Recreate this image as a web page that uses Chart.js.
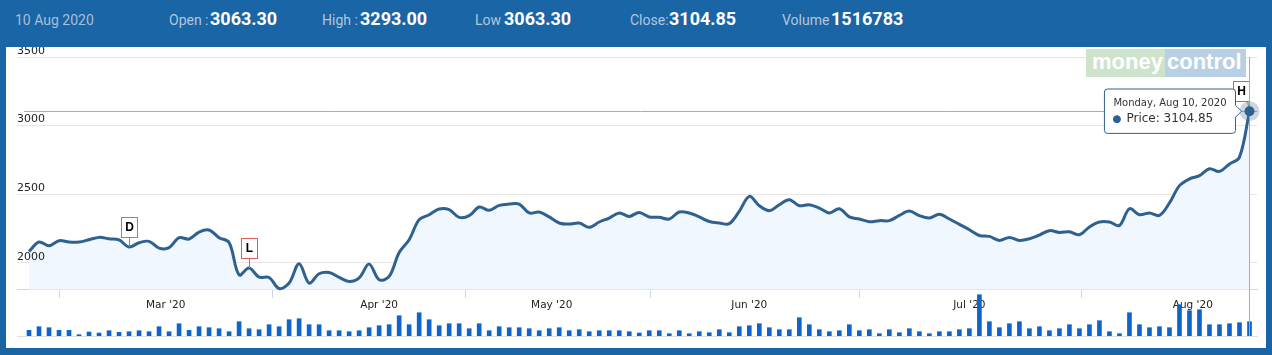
<!DOCTYPE html>
<html><head><meta charset="utf-8">
<script src="https://cdn.jsdelivr.net/npm/chart.js@4.4.0/dist/chart.umd.min.js"></script>
<style>
html,body{margin:0;padding:0;background:#1965a5;width:1272px;height:355px;overflow:hidden;}
#panel{position:absolute;left:6px;top:47px;width:1260px;height:301px;background:#fff;}
#hdr{position:absolute;left:0;top:0;}
#c{position:absolute;left:0;top:47px;}
#logo{position:absolute;left:1086px;top:49px;}
</style></head><body>
<div id="panel"></div>
<svg id="hdr" width="1272" height="47" font-family="Roboto, 'Liberation Sans', sans-serif">
  <text x="15" y="25" font-size="14" fill="#a9bfd8">10 Aug 2020</text>
  <text x="169" y="25" font-size="14" fill="#b3c6dc">Open :</text>
  <text x="210" y="25" font-size="18" font-weight="bold" fill="#ffffff">3063.30</text>
  <text x="322" y="25" font-size="14" fill="#b3c6dc">High :</text>
  <text x="360" y="25" font-size="18" font-weight="bold" fill="#ffffff">3293.00</text>
  <text x="475" y="25" font-size="14" fill="#b3c6dc">Low</text>
  <text x="504" y="25" font-size="18" font-weight="bold" fill="#ffffff">3063.30</text>
  <text x="630" y="25" font-size="14" fill="#b3c6dc">Close:</text>
  <text x="669" y="25" font-size="18" font-weight="bold" fill="#ffffff">3104.85</text>
  <text x="782" y="25" font-size="14" fill="#b3c6dc">Volume</text>
  <text x="831" y="25" font-size="18" font-weight="bold" fill="#ffffff">1516783</text>
</svg>
<canvas id="c" width="1272" height="300"></canvas>
<svg id="logo" width="160" height="28" font-family="'Liberation Sans', Arial, sans-serif" font-weight="bold" font-size="22">
  <rect x="0" y="0" width="79" height="28" fill="#cde3cb"/>
  <rect x="79" y="0" width="81" height="28" fill="#b9cfe4"/>
  <text x="6" y="20" fill="#ffffff">money</text>
  <text x="81" y="20" fill="#ffffff">control</text>
</svg>
<script>
const dates = [
"2020-02-10","2020-02-11","2020-02-12","2020-02-13","2020-02-14","2020-02-17","2020-02-18","2020-02-19","2020-02-20","2020-02-24",
"2020-02-25","2020-02-26","2020-02-27","2020-02-28","2020-03-02","2020-03-03","2020-03-04","2020-03-05","2020-03-06","2020-03-09",
"2020-03-11","2020-03-12","2020-03-13","2020-03-16","2020-03-17","2020-03-18","2020-03-19","2020-03-20","2020-03-23","2020-03-24",
"2020-03-25","2020-03-26","2020-03-27","2020-03-30","2020-03-31","2020-04-01","2020-04-03","2020-04-07","2020-04-08","2020-04-09",
"2020-04-13","2020-04-15","2020-04-16","2020-04-17","2020-04-20","2020-04-21","2020-04-22","2020-04-23","2020-04-24","2020-04-27",
"2020-04-28","2020-04-29","2020-04-30","2020-05-04","2020-05-05","2020-05-06","2020-05-07","2020-05-08","2020-05-11","2020-05-12",
"2020-05-13","2020-05-14","2020-05-15","2020-05-18","2020-05-19","2020-05-20","2020-05-21","2020-05-22","2020-05-26","2020-05-27",
"2020-05-28","2020-05-29","2020-06-01","2020-06-02","2020-06-03","2020-06-04","2020-06-05","2020-06-08","2020-06-09","2020-06-10",
"2020-06-11","2020-06-12","2020-06-15","2020-06-16","2020-06-17","2020-06-18","2020-06-19","2020-06-22","2020-06-23","2020-06-24",
"2020-06-25","2020-06-26","2020-06-29","2020-06-30","2020-07-01","2020-07-02","2020-07-03","2020-07-06","2020-07-07","2020-07-08",
"2020-07-09","2020-07-10","2020-07-13","2020-07-14","2020-07-15","2020-07-16","2020-07-17","2020-07-20","2020-07-21","2020-07-22",
"2020-07-23","2020-07-24","2020-07-27","2020-07-28","2020-07-29","2020-07-30","2020-07-31","2020-08-03","2020-08-04","2020-08-05",
"2020-08-06","2020-08-07","2020-08-10"];

const prices = [
2082,2151,2124,2161,2151,2151,2168,2185,2175,2166,
2115,2146,2156,2107,2110,2183,2173,2224,2239,2183,
2148,1912,1961,1895,1893,1812,1852,1993,1852,1920,
1929,1893,1864,1890,1990,1876,1900,2075,2168,2314,
2350,2392,2387,2331,2343,2406,2382,2418,2428,2428,
2363,2370,2334,2290,2282,2290,2258,2297,2326,2363,
2338,2367,2334,2331,2319,2370,2363,2334,2301,2290,
2285,2375,2484,2416,2380,2423,2460,2416,2423,2399,
2363,2394,2334,2319,2299,2307,2307,2345,2377,2343,
2326,2353,2319,2280,2241,2199,2192,2163,2185,2163,
2175,2202,2234,2221,2226,2204,2261,2297,2297,2272,
2394,2350,2363,2345,2436,2562,2611,2635,2685,2666,
2720,2770,3104.85];

const volumes = [
604000,986000,880000,604000,604000,138000,424000,318000,562000,392000,
456000,562000,456000,986000,456000,1304000,604000,986000,880000,774000,
456000,1516000,774000,668000,1198000,986000,1728000,1834000,1198000,1198000,
562000,562000,456000,562000,880000,1092000,1198000,2152000,1198000,2470000,
1728000,1092000,1304000,1304000,774000,1304000,562000,986000,880000,880000,
774000,562000,774000,880000,562000,668000,456000,562000,562000,562000,
456000,318000,562000,562000,244000,562000,244000,456000,350000,668000,
350000,986000,1092000,1304000,880000,668000,668000,1940000,1198000,668000,
456000,562000,1198000,562000,668000,244000,668000,350000,774000,456000,
244000,456000,456000,668000,774000,4378000,1516000,880000,1304000,1516000,
774000,986000,562000,774000,1198000,774000,1198000,1622000,456000,244000,
2470000,1198000,880000,986000,880000,3318000,2682000,2788000,1198000,1198000,
1304000,1410000,1516783];

const priceTicks = [2000, 2500, 3000, 3500];
const monthStarts = ["2020-03-01","2020-04-01","2020-05-01","2020-06-01","2020-07-01","2020-08-01"];
const monthTickLabels = ["Mar '20","Apr '20","May '20","Jun '20","Jul '20","Aug '20"];
const flagDates = ["2020-02-25","2020-03-13","2020-08-10"];
const flagTitles = ["D","L","H"];
const flagColors = ["#8a8a8a","#e05c5c","#3aa872"];

function toDate(s){const p=s.split('-').map(Number);return new Date(p[0],p[1]-1,p[2]);}
// ordinal axis: month boundary placed between trading days
const xTickPos = monthStarts.map(ms=>{
  const t=toDate(ms).getTime();
  const k=dates.findIndex(d=>toDate(d).getTime()>=t);
  const tk=toDate(dates[k]).getTime();
  if(tk===t||k===0) return k;
  const tp=toDate(dates[k-1]).getTime();
  return k-1+(t-tp)/(tk-tp);
});
const last = prices.length-1;
const dayNames=["Sunday","Monday","Tuesday","Wednesday","Thursday","Friday","Saturday"];
const monNames=["Jan","Feb","Mar","Apr","May","Jun","Jul","Aug","Sep","Oct","Nov","Dec"];
function fmtDate(s){const d=toDate(s);return dayNames[d.getDay()]+", "+monNames[d.getMonth()]+" "+d.getDate()+", "+d.getFullYear();}

const overlay = {
  id:'overlay',
  afterDatasetsDraw(chart){
    const ctx=chart.ctx, area=chart.chartArea;
    const meta=chart.getDatasetMeta(0);
    ctx.save();
    ctx.globalAlpha=1; ctx.setLineDash([]);
    // flags
    flagDates.forEach((d,k)=>{
      const i=dates.indexOf(d); const p=meta.data[i];
      const w=16,h=20,stem=10;
      let bx=Math.round(p.x-w/2);
      if(bx+w>area.right-8) bx=Math.round(area.right-8-w);
      const by=Math.round(p.y-stem-h);
      ctx.strokeStyle=flagColors[k]; ctx.lineWidth=1;
      ctx.beginPath(); ctx.moveTo(Math.round(Math.min(p.x,bx+w-2))+0.5,by+h); ctx.lineTo(Math.round(p.x)+0.5,p.y); ctx.stroke();
      ctx.fillStyle='#ffffff'; ctx.fillRect(bx+0.5,by+0.5,w,h);
      ctx.strokeRect(bx+0.5,by+0.5,w,h);
      ctx.fillStyle='#000'; ctx.font="bold 12px 'Liberation Sans', Arial, sans-serif";
      ctx.textAlign='center'; ctx.textBaseline='middle';
      ctx.fillText(flagTitles[k],bx+w/2+0.5,by+h/2+1);
    });
    // crosshair
    const p=meta.data[last];
    ctx.strokeStyle='#f7a314'; ctx.lineWidth=1;
    ctx.beginPath(); ctx.moveTo(area.left+7,Math.round(p.y)+0.5); ctx.lineTo(area.right,Math.round(p.y)+0.5); ctx.stroke();
    ctx.beginPath(); ctx.moveTo(Math.round(p.x)+0.5,area.top); ctx.lineTo(Math.round(p.x)+0.5,area.bottom); ctx.stroke();
    // hover halo + marker
    ctx.fillStyle='rgba(90,120,150,0.3)';
    ctx.beginPath(); ctx.arc(p.x,p.y,10,0,Math.PI*2); ctx.fill();
    ctx.fillStyle='#2f6190';
    ctx.beginPath(); ctx.arc(p.x,p.y,5,0,Math.PI*2); ctx.fill();
    ctx.restore();
  }
};

const chart = new Chart(document.getElementById('c'), {
  type:'line',
  data:{
    datasets:[
      {type:'line', label:'Price', data:prices.map((v,i)=>({x:i,y:v})), xAxisID:'x', yAxisID:'y',
       borderColor:'#2f6190', borderWidth:3, tension:0.35, pointRadius:0, pointHoverRadius:0,
       fill:{value:1805}, backgroundColor:'#f0f7fe'},
      {type:'bar', label:'Volume', data:volumes.map((v,i)=>({x:i,y:v})), xAxisID:'x', yAxisID:'yv',
       backgroundColor:'#0f64cc', barThickness:4}
    ]
  },
  options:{
    responsive:false, animation:false, events:[],
    layout:{padding:{left:17,right:15,top:10,bottom:11}},
    scales:{
      x:{type:'linear', min:-1.2, max:122.75, offset:false, position:{y:1805},
         afterBuildTicks:s=>{s.ticks=xTickPos.map(v=>({value:v}));},
         ticks:{callback:(v,i)=>monthTickLabels[i], color:'#222', font:{family:'DejaVu Sans',size:10.5}, padding:1, maxRotation:0, autoSkip:false},
         grid:{drawOnChartArea:false, drawTicks:true, tickLength:8, color:'#ccd6eb'},
         border:{display:true, color:'#ccd6eb', width:1}},
      x2:{type:'linear', min:-1.2, max:122.75, position:{yv:0}, ticks:{display:false}, grid:{display:false},
         border:{display:true, color:'#e0e0e0', width:1}},
      y:{type:'linear', position:'left', min:1466, max:3500,
         afterBuildTicks:s=>{s.ticks=priceTicks.map(v=>({value:v}));},
         ticks:{z:1, mirror:true, padding:0, labelOffset:-6, color:'#222', font:{family:'DejaVu Sans',size:11}, callback:v=>String(v)},
         grid:{color:'#e6e6e6', drawTicks:false, z:-1}, border:{display:false}},
      yv:{type:'linear', position:'left', min:0, max:29600000, display:false}
    },
    plugins:{
      legend:{display:false},
      tooltip:{
        enabled:true, xAlign:'right', yAlign:'center',
        backgroundColor:'rgba(255,255,255,0.96)', borderColor:'#2f6190', borderWidth:1, cornerRadius:3,
        titleColor:'#333', titleFont:{family:'DejaVu Sans', size:10, weight:'normal'}, titleMarginBottom:3,
        bodyColor:'#333', bodyFont:{family:'DejaVu Sans', size:12},
        padding:{left:9,right:9,top:8,bottom:7},
        caretSize:6, caretPadding:8,
        usePointStyle:true, boxWidth:7, boxHeight:7, boxPadding:4,
        filter:item=>item.datasetIndex===0,
        callbacks:{
          title:items=>fmtDate(dates[items[0].dataIndex]),
          label:item=>'Price: '+prices[item.dataIndex].toFixed(2),
          labelColor:()=>({borderColor:'#2f6190', backgroundColor:'#2f6190'}),
          labelPointStyle:()=>({pointStyle:'circle', rotation:0})
        }
      }
    }
  },
  plugins:[overlay]
});
const hp = chart.getDatasetMeta(0).data[last];
chart.tooltip.setActiveElements([{datasetIndex:0,index:last}],{x:hp.x,y:hp.y});
chart.update();
</script>
</body></html>
